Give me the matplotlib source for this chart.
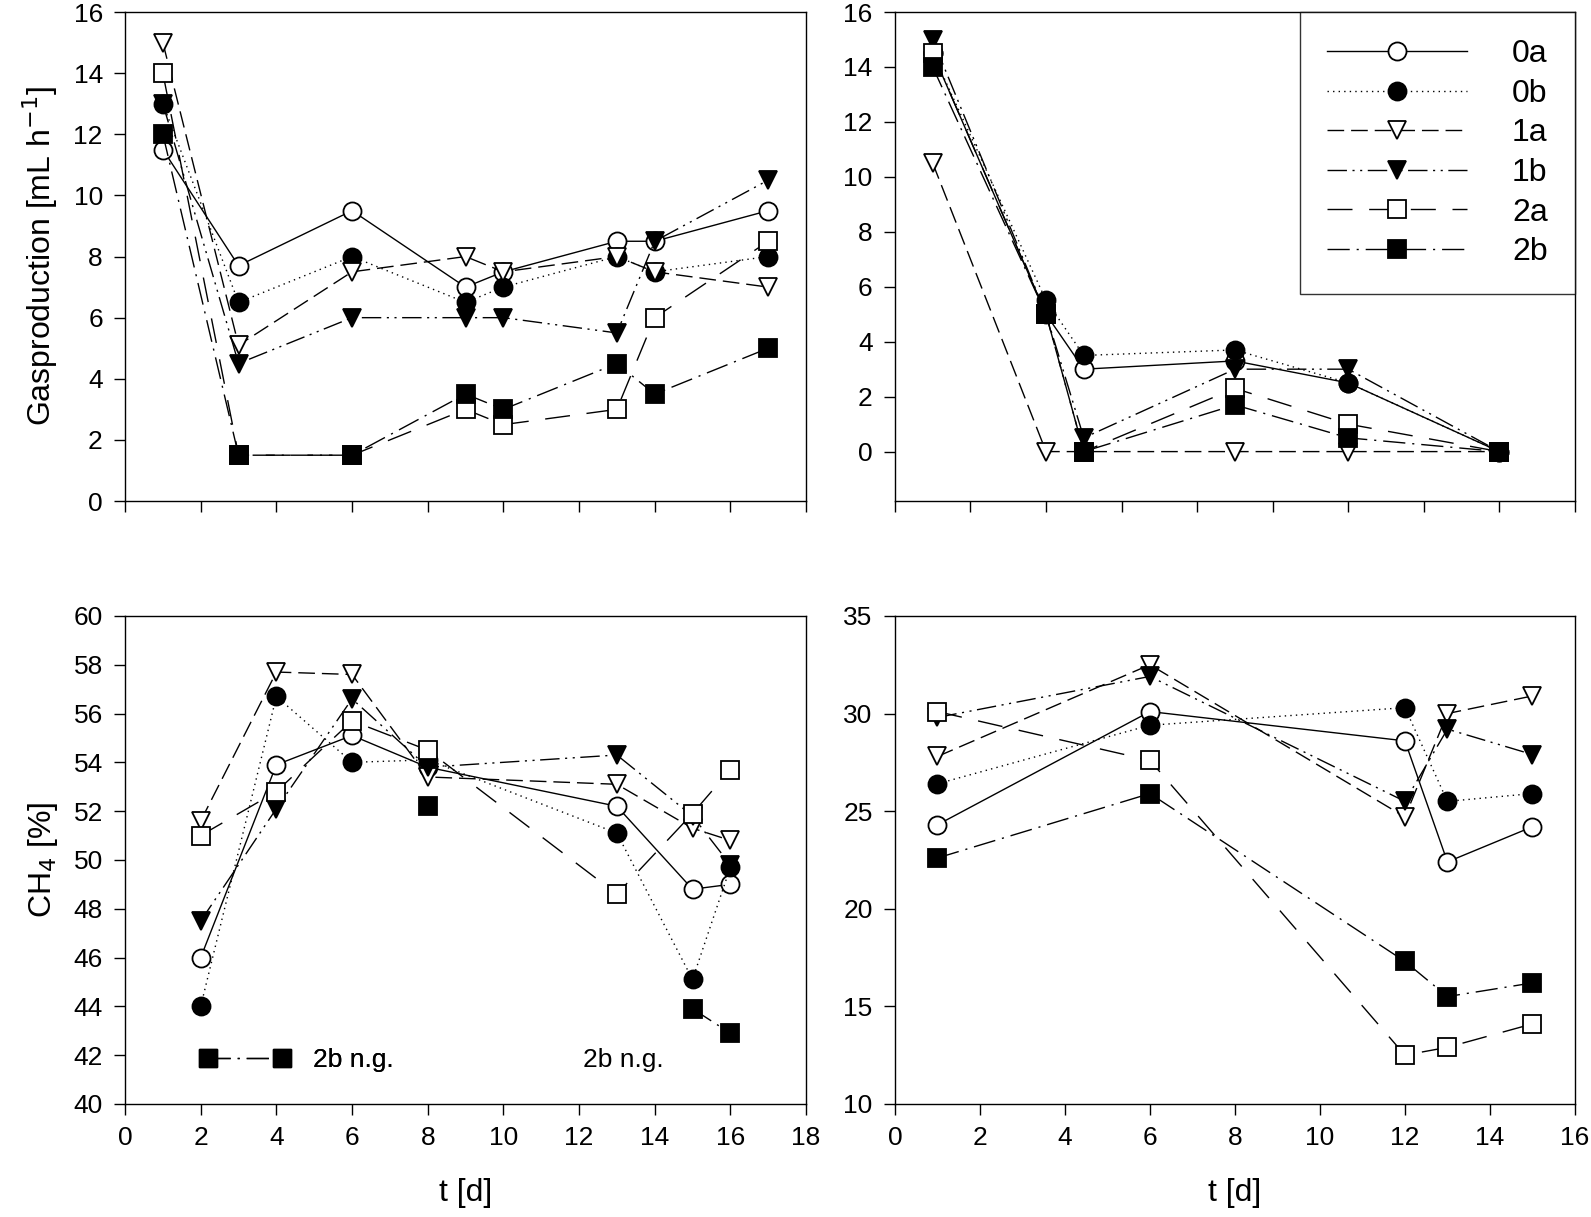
import matplotlib
matplotlib.use("Agg")
import matplotlib.pyplot as plt
from matplotlib.lines import Line2D
import numpy as np

plt.rcParams['font.family'] = ['Liberation Sans', 'DejaVu Sans']

series = ['0a', '0b', '1a', '1b', '2a', '2b']

# top left: gas production, run 1
t_gas1 = [1, 3, 6, 9, 10, 13, 14, 17]
gas1 = {
    '0a': [11.5, 7.7, 9.5, 7.0, 7.5, 8.5, 8.5, 9.5],
    '0b': [13.0, 6.5, 8.0, 6.5, 7.0, 8.0, 7.5, 8.0],
    '1a': [15.0, 5.1, 7.5, 8.0, 7.5, 8.0, 7.5, 7.0],
    '1b': [13.0, 4.5, 6.0, 6.0, 6.0, 5.5, 8.5, 10.5],
    '2a': [14.0, 1.5, 1.5, 3.0, 2.5, 3.0, 6.0, 8.5],
    '2b': [12.0, 1.5, 1.5, 3.5, 3.0, 4.5, 3.5, 5.0],
}

# top right: gas production, run 2
t_gas2 = [1, 4, 5, 9, 12, 16]
gas2 = {
    '0a': [14.5, 5.0, 3.0, 3.3, 2.5, 0.0],
    '0b': [14.5, 5.5, 3.5, 3.7, 2.5, 0.0],
    '1a': [10.5, 0.0, 0.0, 0.0, 0.0, 0.0],
    '1b': [15.0, 5.0, 0.5, 3.0, 3.0, 0.0],
    '2a': [14.5, 5.0, 0.0, 2.3, 1.0, 0.0],
    '2b': [14.0, 5.0, 0.0, 1.7, 0.5, 0.0],
}

# bottom left: CH4, run 1
t_ch1 = [2, 4, 6, 8, 13, 15, 16]
ch1 = {
    '0a': [46.0, 53.9, 55.1, 53.8, 52.2, 48.8, 49.0],
    '0b': [44.0, 56.7, 54.0, 54.1, 51.1, 45.1, 49.7],
    '1a': [51.6, 57.7, 57.6, 53.4, 53.1, 51.3, 50.8],
    '1b': [47.5, 52.1, 56.6, 53.8, 54.3, 51.8, 49.8],
    '2a': [51.0, 52.8, 55.7, 54.5, 48.6, 51.9, 53.7],
    '2b': [np.nan, np.nan, np.nan, 52.2, np.nan, 43.9, 42.9],
}

# bottom right: CH4, run 2
t_ch2 = [1, 6, 12, 13, 15]
ch2 = {
    '0a': [24.3, 30.1, 28.6, 22.4, 24.2],
    '0b': [26.4, 29.4, 30.3, 25.5, 25.9],
    '1a': [27.8, 32.5, 24.7, 30.0, 30.9],
    '1b': [29.8, 31.9, 25.5, 29.2, 27.9],
    '2a': [30.1, 27.6, 12.5, 12.9, 14.1],
    '2b': [22.6, 25.9, 17.3, 15.5, 16.2],
}

styles = {
    '0a': dict(marker='o', mfc='white', ls='-'),
    '0b': dict(marker='o', mfc='black', ls=(0, (1, 3))),
    '1a': dict(marker='v', mfc='white', ls=(0, (12, 5))),
    '1b': dict(marker='v', mfc='black', ls=(0, (14, 4, 1.5, 4, 1.5, 4))),
    '2a': dict(marker='s', mfc='white', ls=(0, (18, 12))),
    '2b': dict(marker='s', mfc='black', ls=(0, (16, 5, 1.5, 5))),
}

fig = plt.figure(figsize=(15.91, 12.17), dpi=100)
ax_tl = fig.add_axes([0.0786, 0.5883, 0.428, 0.4018])
ax_tr = fig.add_axes([0.5625, 0.5883, 0.4274, 0.4018])
ax_bl = fig.add_axes([0.0786, 0.0929, 0.428, 0.401])
ax_br = fig.add_axes([0.5625, 0.0929, 0.4274, 0.401])


def draw(ax, t, data):
    for s in series:
        st = styles[s]
        ax.plot(t, data[s], color='black', lw=1.0, ls=st['ls'], marker=st['marker'],
                ms=13, mfc=st['mfc'], mec='black', mew=1.3, label=s)


draw(ax_tl, t_gas1, gas1)
draw(ax_tr, t_gas2, gas2)
draw(ax_bl, t_ch1, ch1)
draw(ax_br, t_ch2, ch2)

for ax in (ax_tl, ax_tr, ax_bl, ax_br):
    ax.tick_params(direction='out', length=8, width=1, labelsize=19, pad=8)
    for sp in ax.spines.values():
        sp.set_linewidth(1.0)

ax_tl.set_xlim(0, 18)
ax_tl.set_xticks(np.arange(0, 19, 2))
ax_tl.set_xticklabels([])
ax_tl.set_ylim(0, 16)
ax_tl.set_yticks(np.arange(0, 17, 2))
ax_tl.set_ylabel('Gasproduction [mL h$^{-1}$]', fontsize=23, labelpad=10)

ax_tr.set_xlim(0, 18)
ax_tr.set_xticks(np.arange(0, 19, 2))
ax_tr.set_xticklabels([])
ax_tr.set_ylim(-1.8, 16)
ax_tr.set_yticks(np.arange(0, 17, 2))

ax_bl.set_xlim(0, 18)
ax_bl.set_xticks(np.arange(0, 19, 2))
ax_bl.set_ylim(40, 60)
ax_bl.set_yticks(np.arange(40, 61, 2))
ax_bl.set_ylabel('CH$_4$ [%]', fontsize=23, labelpad=10)
ax_bl.set_xlabel('t [d]', fontsize=23, labelpad=20)

ax_br.set_xlim(0, 16)
ax_br.set_xticks(np.arange(0, 17, 2))
ax_br.set_ylim(10, 35)
ax_br.set_yticks(np.arange(10, 36, 5))
ax_br.set_xlabel('t [d]', fontsize=23, labelpad=20)

leg = ax_tr.legend(loc='upper right', borderaxespad=0, fancybox=False, edgecolor='black',
                   fontsize=23, handlelength=4.4, handletextpad=1.4, labelspacing=0.3,
                   borderpad=0.85, numpoints=1)
leg.get_frame().set_linewidth(1.0)

ng_handle = Line2D([], [], color='black', lw=1.0, ls=(0, (16, 5, 1.5, 5)), marker='s',
                   ms=13, mfc='black', mec='black')
ax_bl.add_artist(ax_bl.legend([ng_handle], ['2b n.g.'], loc='center left', frameon=False,
                              numpoints=2, handlelength=3.4, fontsize=19, handletextpad=0.9,
                              bbox_to_anchor=(0.075, 0.09)))
ax_bl.text(0.672, 0.09, '2b n.g.', transform=ax_bl.transAxes, fontsize=19, va='center')

fig.savefig('out.png', dpi=100)
